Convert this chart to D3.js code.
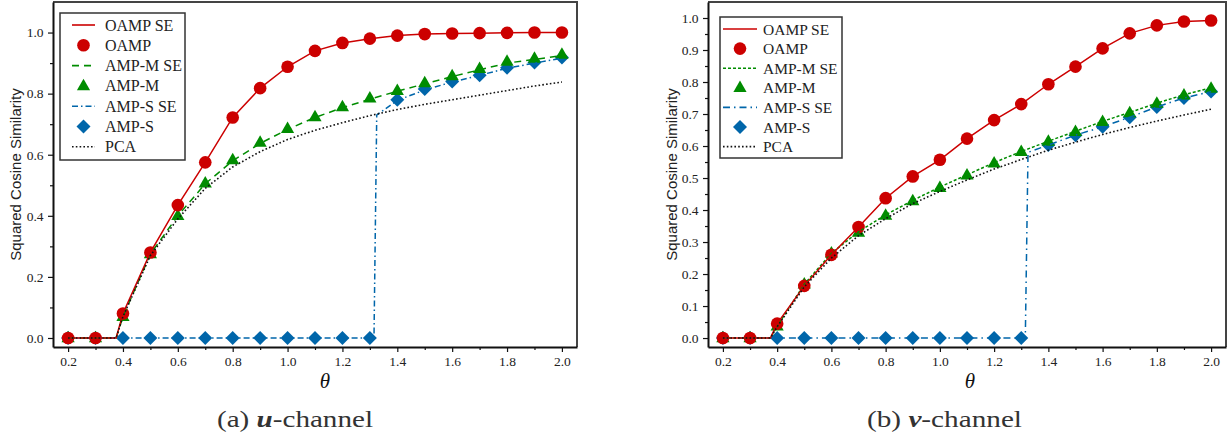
<!DOCTYPE html>
<html>
<head>
<meta charset="utf-8">
<script src="https://cdn.jsdelivr.net/npm/d3@7"></script>
<style>
  html, body { margin: 0; padding: 0; background: #fff; }
  svg { display: block; }
</style>
</head>
<body>
<svg id="chart"></svg>
<script>
const width = 1230;
const height = 438;
const serifFont = "'Liberation Serif', 'Times New Roman', Times, serif";
const sansFont = "'Liberation Sans', Arial, Helvetica, sans-serif";

// theta grid (markers) and SE grids
const theta = [0.2, 0.3, 0.4, 0.5, 0.6, 0.7, 0.8, 0.9, 1.0, 1.1, 1.2, 1.3, 1.4, 1.5, 1.6, 1.7, 1.8, 1.9, 2.0];
const seTheta = [0.2, 0.3, 0.375, 0.4, 0.5, 0.6, 0.7, 0.8, 0.9, 1.0, 1.1, 1.2, 1.3, 1.4, 1.5, 1.6, 1.7, 1.8, 1.9, 2.0];
const ampsSeTheta = [0.2, 0.3, 0.4, 0.5, 0.6, 0.7, 0.8, 0.9, 1.0, 1.1, 1.2, 1.3, 1.315, 1.325, 1.4, 1.5, 1.6, 1.7, 1.8, 1.9, 2.0];

// (a) u-channel
const uOamp   = [0, 0, 0.08, 0.28, 0.435, 0.575, 0.722, 0.818, 0.888, 0.94, 0.966, 0.98, 0.99, 0.995, 0.997, 0.998, 0.999, 1.0, 1.0];
const uOampSE = [0, 0, 0, 0.08, 0.28, 0.435, 0.575, 0.722, 0.818, 0.888, 0.94, 0.966, 0.98, 0.99, 0.995, 0.997, 0.998, 0.999, 1.0, 1.0];
const uAmpM   = [0, 0, 0.07, 0.275, 0.40, 0.507, 0.583, 0.64, 0.685, 0.724, 0.756, 0.785, 0.81, 0.835, 0.858, 0.882, 0.905, 0.915, 0.928];
const uAmpMSE = [0, 0, 0, 0.07, 0.275, 0.40, 0.505, 0.58, 0.637, 0.683, 0.722, 0.754, 0.782, 0.808, 0.832, 0.856, 0.878, 0.9, 0.912, 0.925];
const uAmpS   = [0, 0, 0, 0, 0, 0, 0, 0, 0, 0, 0, 0, 0.78, 0.815, 0.84, 0.86, 0.885, 0.902, 0.918];
const uAmpSSE = [0, 0, 0, 0, 0, 0, 0, 0, 0, 0, 0, 0, 0, 0.73, 0.778, 0.812, 0.838, 0.86, 0.883, 0.9, 0.916];
const uPca    = [0, 0, 0, 0.07, 0.27, 0.39, 0.49, 0.56, 0.61, 0.65, 0.68, 0.705, 0.728, 0.748, 0.765, 0.78, 0.795, 0.81, 0.825, 0.838];

// (b) v-channel
const vOamp   = [0, 0, 0.045, 0.163, 0.26, 0.347, 0.437, 0.505, 0.557, 0.623, 0.681, 0.731, 0.793, 0.848, 0.905, 0.952, 0.977, 0.989, 0.992];
const vOampSE = [0, 0, 0, 0.045, 0.163, 0.26, 0.347, 0.437, 0.505, 0.557, 0.623, 0.681, 0.731, 0.793, 0.848, 0.905, 0.952, 0.977, 0.989, 0.992];
const vAmpM   = [0, 0, 0.037, 0.168, 0.265, 0.33, 0.383, 0.428, 0.47, 0.509, 0.546, 0.582, 0.614, 0.645, 0.676, 0.703, 0.733, 0.759, 0.78];
const vAmpMSE = [0, 0, 0, 0.037, 0.168, 0.265, 0.332, 0.385, 0.43, 0.472, 0.51, 0.548, 0.583, 0.615, 0.646, 0.677, 0.705, 0.734, 0.76, 0.782];
const vAmpS   = [0, 0, 0, 0, 0, 0, 0, 0, 0, 0, 0, 0, 0.603, 0.634, 0.66, 0.69, 0.722, 0.75, 0.77];
const vAmpSSE = [0, 0, 0, 0, 0, 0, 0, 0, 0, 0, 0, 0, 0, 0.58, 0.603, 0.634, 0.66, 0.69, 0.722, 0.75, 0.77];
const vPca    = [0, 0, 0, 0.035, 0.16, 0.25, 0.32, 0.373, 0.42, 0.458, 0.494, 0.528, 0.558, 0.587, 0.612, 0.636, 0.658, 0.678, 0.697, 0.715];

const legendNames = ["OAMP SE", "OAMP", "AMP-M SE", "AMP-M", "AMP-S SE", "AMP-S", "PCA"];
const xTicks = [0.2, 0.4, 0.6, 0.8, 1.0, 1.2, 1.4, 1.6, 1.8, 2.0];
const xMinor = [0.3, 0.5, 0.7, 0.9, 1.1, 1.3, 1.5, 1.7, 1.9];
const uYTicks = [0, 0.2, 0.4, 0.6, 0.8, 1.0];
const uYMinor = [0.1, 0.3, 0.5, 0.7, 0.9];
const vYTicks = [0, 0.1, 0.2, 0.3, 0.4, 0.5, 0.6, 0.7, 0.8, 0.9, 1.0];
const vYMinor = [0.05, 0.15, 0.25, 0.35, 0.45, 0.55, 0.65, 0.75, 0.85, 0.95];

const red = "#cc0000", green = "#008c00", blue = "#0066aa";

const svg = d3.select("#chart").attr("width", width).attr("height", height);

// marker shapes
function marker(type) {
    if (type === "circle") return d3.symbol(d3.symbolCircle, 125)();
    if (type === "triangle") return "M0,-7.2L6.6,4.3L-6.6,4.3Z";
    return "M0,-7L7,0L0,7L-7,0Z";
}

function drawPanel(p) {
    const g = svg.append("g");
    const x = d3.scaleLinear().domain([0.145, 2.055]).range([p.left, p.right]);
    const y = d3.scaleLinear().domain(p.yDomain).range([p.bottom, p.top]);

    // frame top/right
    g.append("path")
        .attr("d", `M${p.left},${p.top}H${p.right}V${p.bottom}`)
        .attr("fill", "none").attr("stroke", "#444").attr("stroke-width", 2);

    const series = [
        { xs: ampsSeTheta, ys: p.ampsSE, color: blue, dash: p.ampsDash },
        { xs: seTheta, ys: p.ampmSE, color: green, dash: p.ampmDash },
        { xs: seTheta, ys: p.oampSE, color: red, dash: null },
    ];
    const markers = [
        { ys: p.amps, color: blue, type: "diamond" },
        { ys: p.ampm, color: green, type: "triangle" },
        { ys: p.oamp, color: red, type: "circle" },
    ];

    const line = d3.line().x(d => x(d[0])).y(d => y(d[1]));

    markers.forEach(m => {
        g.append("g").selectAll("path")
            .data(theta.map((t, i) => [t, m.ys[i]]))
            .join("path")
            .attr("d", marker(m.type))
            .attr("transform", d => `translate(${x(d[0])},${y(d[1])})`)
            .attr("fill", m.color);
    });

    series.forEach(s => {
        g.append("path")
            .datum(s.xs.map((t, i) => [t, s.ys[i]]))
            .attr("d", line)
            .attr("fill", "none")
            .attr("stroke", s.color)
            .attr("stroke-width", 1.5)
            .attr("stroke-dasharray", s.dash);
    });

    g.append("path")
        .datum(seTheta.map((t, i) => [t, p.pca[i]]))
        .attr("d", line)
        .attr("fill", "none")
        .attr("stroke", "#111")
        .attr("stroke-width", 1.6)
        .attr("stroke-dasharray", "1.6,2.2");

    // axes
    g.append("g").attr("transform", `translate(0,${p.bottom})`)
        .call(d3.axisBottom(x).tickValues(xTicks).tickFormat(d3.format(".1f")).tickSize(5).tickSizeOuter(0).tickPadding(4));
    g.append("g").attr("transform", `translate(0,${p.bottom})`)
        .call(d3.axisBottom(x).tickValues(xMinor).tickFormat("").tickSize(3).tickSizeOuter(0))
        .select(".domain").remove();
    g.append("g").attr("transform", `translate(${p.left},0)`)
        .call(d3.axisLeft(y).tickValues(p.yTicks).tickFormat(d3.format(".1f")).tickSize(5).tickSizeOuter(0).tickPadding(4.5));
    g.append("g").attr("transform", `translate(${p.left},0)`)
        .call(d3.axisLeft(y).tickValues(p.yMinor).tickFormat("").tickSize(3).tickSizeOuter(0))
        .select(".domain").remove();
    g.selectAll(".domain").attr("stroke", "#111").attr("stroke-width", 2);
    g.selectAll(".tick line").attr("stroke", "#111").attr("stroke-width", 1.2);
    g.selectAll(".tick text").attr("font-family", serifFont).attr("font-size", 13.5).attr("fill", "#222");

    // axis titles
    g.append("text")
        .attr("transform", `translate(${p.yLabelX},${(p.top + p.bottom) / 2}) rotate(-90)`)
        .attr("text-anchor", "middle")
        .attr("font-family", sansFont)
        .attr("font-size", 15)
        .attr("fill", "#222")
        .text("Squared Cosine Similarity");
    g.append("text")
        .attr("x", p.thetaX).attr("y", 388)
        .attr("text-anchor", "middle")
        .attr("font-family", serifFont)
        .attr("font-style", "italic")
        .attr("font-size", 21)
        .attr("fill", "#111")
        .text("θ");

    // legend
    const lg = g.append("g");
    lg.append("rect")
        .attr("x", p.legend.x).attr("y", p.legend.y)
        .attr("width", p.legend.w).attr("height", p.legend.h)
        .attr("fill", "#fff").attr("stroke", "#333").attr("stroke-width", 1.5);
    const entries = [
        { kind: "line", color: red, dash: null },
        { kind: "marker", color: red, type: "circle" },
        { kind: "line", color: green, dash: p.ampmDash },
        { kind: "marker", color: green, type: "triangle" },
        { kind: "line", color: blue, dash: p.ampsDash },
        { kind: "marker", color: blue, type: "diamond" },
        { kind: "line", color: "#111", dash: "1.6,2.2" },
    ];
    entries.forEach((e, i) => {
        const ry = p.legend.row0 + i * p.legend.step;
        if (e.kind === "line") {
            lg.append("line")
                .attr("x1", p.legend.l1).attr("x2", p.legend.l2)
                .attr("y1", ry).attr("y2", ry)
                .attr("stroke", e.color).attr("stroke-width", 1.6)
                .attr("stroke-dasharray", e.dash);
        } else {
            lg.append("path")
                .attr("d", marker(e.type))
                .attr("transform", `translate(${(p.legend.l1 + p.legend.l2) / 2},${ry})`)
                .attr("fill", e.color);
        }
        lg.append("text")
            .attr("x", p.legend.tx).attr("y", ry + 5.5)
            .attr("font-family", serifFont)
            .attr("font-size", p.legend.fs)
            .attr("fill", "#222")
            .text(legendNames[i]);
    });

    // caption
    const cap = svg.append("text")
        .attr("x", p.capX).attr("y", 427)
        .attr("textLength", p.capW)
        .attr("lengthAdjust", "spacingAndGlyphs")
        .attr("font-family", serifFont)
        .attr("font-size", 23)
        .attr("fill", "#333");
    cap.append("tspan").text(p.capLabel + " ");
    cap.append("tspan").attr("font-weight", "bold").attr("font-style", "italic").text(p.capVar);
    cap.append("tspan").text("-channel");
}

drawPanel({
    left: 53, right: 577, top: 2, bottom: 347,
    yDomain: [-0.0295, 1.1],
    yTicks: uYTicks, yMinor: uYMinor,
    oamp: uOamp, oampSE: uOampSE, ampm: uAmpM, ampmSE: uAmpMSE, amps: uAmpS, ampsSE: uAmpSSE, pca: uPca,
    ampmDash: "7,5", ampsDash: "6,3,1.5,3",
    yLabelX: 21, thetaX: 325,
    legend: { x: 60, y: 13, w: 125, h: 147, row0: 25, step: 20.3, l1: 72, l2: 95, tx: 105, fs: 16 },
    capX: 217, capW: 156, capLabel: "(a)", capVar: "u"
});

drawPanel({
    left: 708, right: 1226, top: 2, bottom: 347,
    yDomain: [-0.028, 1.05],
    yTicks: vYTicks, yMinor: vYMinor,
    oamp: vOamp, oampSE: vOampSE, ampm: vAmpM, ampmSE: vAmpMSE, amps: vAmpS, ampsSE: vAmpSSE, pca: vPca,
    ampmDash: "3,2", ampsDash: "7,4,1.5,4",
    yLabelX: 677, thetaX: 970,
    legend: { x: 720, y: 17, w: 122, h: 141, row0: 29, step: 19.6, l1: 723, l2: 757, tx: 763, fs: 15.5 },
    capX: 867, capW: 155, capLabel: "(b)", capVar: "v"
});
</script>
</body>
</html>
